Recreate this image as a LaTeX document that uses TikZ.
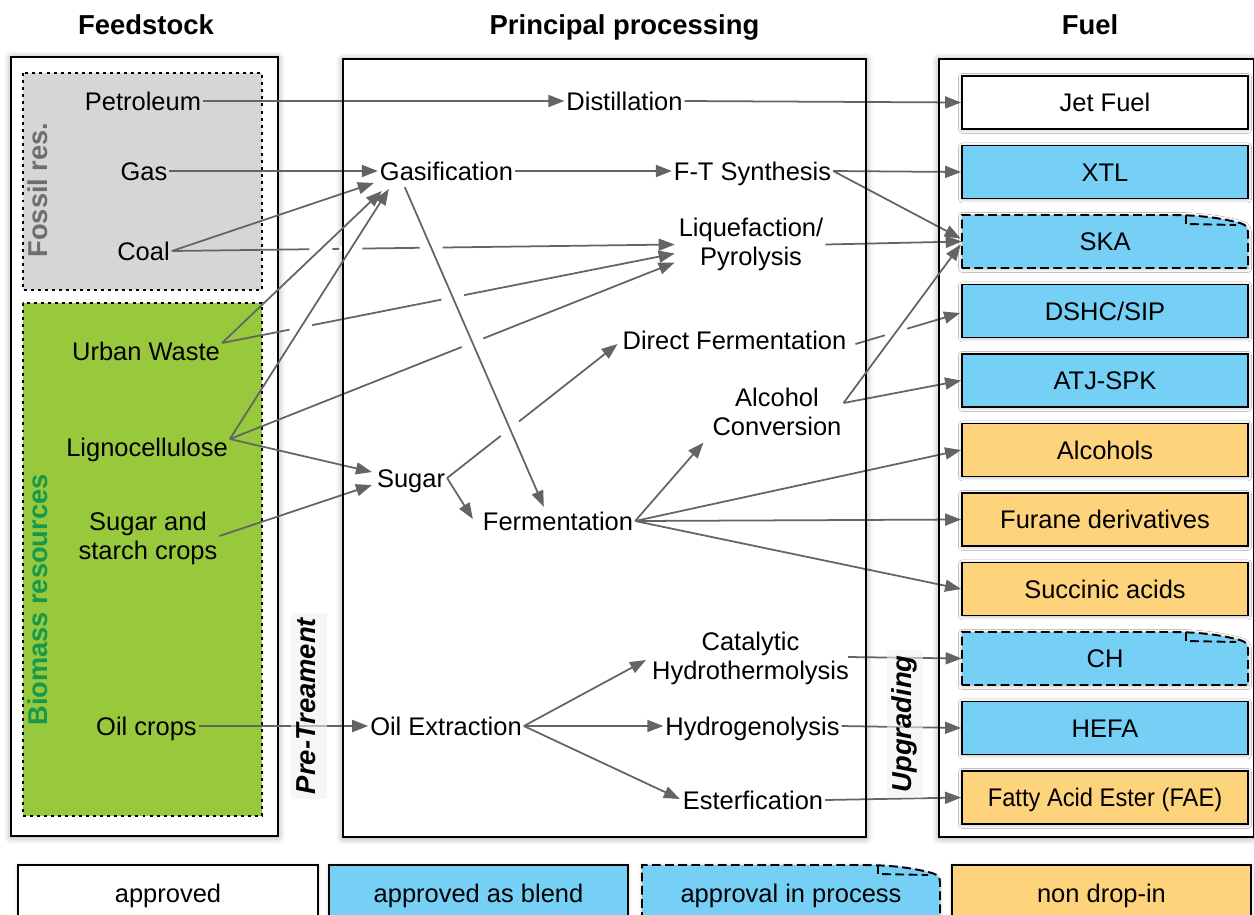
\documentclass[tikz,border=0pt]{standalone}
\usepackage{fontspec}
\setmainfont{Liberation Sans}
\usetikzlibrary{arrows.meta,calc,intersections,shadows.blur}
\definecolor{arrowgray}{HTML}{646464}
\definecolor{fuelblue}{HTML}{76CFF4}
\definecolor{fuelorange}{HTML}{FDD37B}
\definecolor{fossilgray}{HTML}{D6D6D6}
\definecolor{biogreen}{HTML}{98C83C}
\definecolor{biotext}{HTML}{17994D}
\definecolor{fossiltext}{HTML}{6E6E6E}
\tikzset{
  lbl/.style={font=\fontsize{14.5}{16.5}\selectfont, inner sep=1pt, text height=10.4pt, text depth=0pt},
  lbltwo/.style={font=\fontsize{14.5}{16.5}\selectfont, inner sep=1pt, align=center},
  head/.style={font=\fontsize{15.6}{18}\selectfont\bfseries, inner sep=0pt, text height=11.2pt, text depth=0pt},
  sidelabel/.style={font=\fontsize{15.5}{18}\selectfont\bfseries, rotate=90, inner sep=0pt, text height=11.2pt, text depth=0pt},
  stagelabel/.style={font=\fontsize{15.6}{18}\selectfont\bfseries\itshape, rotate=90, inner sep=3pt, text height=11.2pt, text depth=3.3pt, fill=black!6, fill opacity=0.6, text opacity=1},
  arr/.style={draw=arrowgray, line width=1pt, -{Triangle[length=0.32cm,width=0.24cm]}},
  gapline/.style={draw=white, line width=3pt},
  panel/.style={draw=black, line width=1.1pt, fill=white, blur shadow={shadow xshift=0pt, shadow yshift=-0.5pt, shadow blur radius=4pt, shadow opacity=40}},
  panelline/.style={draw=black, line width=1.1pt},
  region/.style={draw=black, line width=0.9pt, dash pattern=on 1.7pt off 2.3pt},
  fboxbase/.style={font=\fontsize{14.5}{16.5}\selectfont, minimum width=5.72cm, minimum height=1.06cm, inner sep=0pt, text height=10.4pt, text depth=0pt},
  fbox/.style={fboxbase, draw=black, line width=1.1pt, blur shadow={shadow xshift=0pt, shadow yshift=-0.5pt, shadow blur radius=2pt, shadow opacity=30}},
  approvedbox/.style={fbox, fill=white},
  blendbox/.style={fbox, fill=fuelblue},
  nondropbox/.style={fbox, fill=fuelorange},
  foldnode/.style={fboxbase},
  foldline/.style={draw=black, line width=1.1pt, dash pattern=on 5pt off 2.5pt},
}
\newcommand\foldshape[4]{%
  \filldraw[foldline, fill=fuelblue, blur shadow={shadow xshift=0pt, shadow yshift=-0.5pt, shadow blur radius=2pt, shadow opacity=30}]
    (#1-#3,#2+#4) -- (#1-#3,#2-#4) -- (#1+#3-78,#2-#4)
    .. controls (#1+#3-40,#2-#4) and (#1+#3-20,#2-#4+5) .. (#1+#3-8,#2-#4+8)
    .. controls (#1+#3-2,#2-#4+10) and (#1+#3,#2-#4+12) .. (#1+#3,#2-#4+18)
    -- (#1+#3,#2+#4) -- cycle;
  \draw[foldline] (#1+#3-62,#2-#4) -- (#1+#3-62,#2-#4+9) -- (#1+#3-12,#2-#4+10);
}
\begin{document}
\begin{tikzpicture}[x=0.02cm,y=-0.02cm]
\useasboundingbox (0,0) rectangle (1254,914);

% panels
\draw[panel] (11,57) rectangle (278,836);
\draw[panel] (343,59) rectangle (866,837);
\draw[panel] (939,59) rectangle (1254,837);
\filldraw[region, fill=fossilgray] (23,73) rectangle (262,290);
\filldraw[region, fill=biogreen] (23,303) rectangle (262,816);

% headers
\node[head] (hfeed) at (146,25) {Feedstock};
\node[head] (hproc) at (624.5,25) {Principal processing};
\node[head] (hfuel) at (1090,25) {Fuel};

\node[sidelabel, text=fossiltext] (fossil) at (37.5,190) {Fossil res.};
\node[sidelabel, text=biotext] (biomass) at (37.5,600) {Biomass resources};

% fuel boxes
\node[approvedbox] (jet) at (1105,102.5) {Jet Fuel};
\node[blendbox] (xtl) at (1105,172) {XTL};
\foldshape{1105}{241.5}{143}{26.5}
\node[foldnode] (ska) at (1105,241.5) {SKA};
\node[blendbox] (dshc) at (1105,311) {DSHC/SIP};
\node[blendbox] (atj) at (1105,380.5) {ATJ-SPK};
\node[nondropbox] (alcohols) at (1105,450) {Alcohols};
\node[nondropbox] (furane) at (1105,519.5) {Furane derivatives};
\node[nondropbox] (succ) at (1105,589) {Succinic acids};
\foldshape{1105}{658.5}{143}{26.5}
\node[foldnode] (ch) at (1105,658.5) {CH};
\node[blendbox] (hefa) at (1105,728) {HEFA};
\node[nondropbox] (fae) at (1105,797.5) {\scalebox{0.93}[1]{Fatty Acid Ester (FAE)}};

% legend
\node[approvedbox, minimum width=6cm, minimum height=1.12cm] (lapp) at (168,893) {approved};
\node[blendbox, minimum width=5.98cm, minimum height=1.12cm] (lblend) at (478.5,893) {approved as blend};
\foldshape{791}{893}{149}{28}
\node[foldnode, minimum width=5.96cm, minimum height=1.12cm] (lproc) at (791,893) {approval in process};
\node[nondropbox, minimum width=5.98cm, minimum height=1.12cm] (lnon) at (1101.5,893) {non drop-in};

% feedstock labels
\node[lbl] (petro) at (143,101) {Petroleum};
\node[lbl] (gas) at (144,171) {Gas};
\node[lbl] (coal) at (143.5,251) {Coal};
\node[lbl] (uw) at (146,351) {Urban Waste};
\node[lbl] (ligno) at (147,447) {Lignocellulose};
\node[lbltwo] (sugc) at (148,538) {Sugar and\\starch crops};
\node[lbl] (oilc) at (146.5,726) {Oil crops};

% processing labels
\node[lbl] (dist) at (624.5,101) {Distillation};
\node[lbl] (gasif) at (446.5,171) {Gasification};
\node[lbl] (ft) at (752.5,171) {F-T Synthesis};
\node[lbltwo] (liq) at (751,244.5) {Liquefaction/\\Pyrolysis};
\node[lbl] (df) at (734.5,340) {Direct Fermentation};
\node[lbltwo] (alc) at (777,411.5) {Alcohol\\Conversion};
\node[lbl] (sugar) at (411,478) {Sugar};
\node[lbl] (ferm) at (558,521) {Fermentation};
\node[lbltwo] (cat) at (750.5,658) {Catalytic\\Hydrothermolysis};
\node[lbl] (oilx) at (446,726) {Oil Extraction};
\node[lbl] (hydro) at (752.5,726) {Hydrogenolysis};
\node[lbl] (ester) at (753,800) {Esterfication};

% connector end points
\coordinate (cS) at (coal.east);
\coordinate (cG) at ($(gasif.west)+(-4,12)$);
\coordinate (cL) at ($(liq.west)+(-2,0)$);
\coordinate (uS) at ($(uw.east)+(0,-8)$);
\coordinate (uG) at ($(gasif.west)+(4,20)$);
\coordinate (uL) at ($(liq.west)+(-2,9)$);
\coordinate (lS) at ($(ligno.east)+(0,-8)$);
\coordinate (lG) at ($(gasif.west)+(11,18)$);
\coordinate (lL) at ($(liq.west)+(-2,18)$);
\coordinate (gfS) at ($(gasif.south west)+(27,5)$);
\coordinate (gfE) at ($(ferm.north west)+(63,-3)$);
\coordinate (sD) at ($(df.west)+(-3,4)$);
\coordinate (dS) at ($(df.east)+(7,4)$);
\coordinate (dE) at ($(dshc.west)+(-1,2)$);
\coordinate (aS) at ($(alc.east)+(0,-8.5)$);
\coordinate (aE) at ($(ska.west)+(-1,3)$);

\path[name path=pUG] (uS) -- (uG);
\path[name path=pLG] (lS) -- (lG);
\path[name path=pGF] (gfS) -- (gfE);
\path[name path=pAS] (aS) -- (aE);

% lines that pass under others
\draw[arr, name path=pCL] (cS) -- (cL);
\draw[arr, name path=pUL] (uS) -- (uL);
\draw[arr, name path=pLL] (lS) -- (lL);
\draw[arr, name path=pSD] (sugar.east) -- (sD);
\draw[arr, name path=pDD] (dS) -- (dE);

% other connectors
\draw[arr] (petro.east) -- (dist.west);
\draw[arr] (dist.east) -- (jet.west);
\draw[arr] (gas.east) -- (gasif.west);
\draw[arr] (cS) -- (cG);
\draw[arr] (lS) -- ($(sugar.west)+(-3,-6)$);
\draw[arr] ($(sugc.east)+(0,-2)$) -- ($(sugar.west)+(-3,7)$);
\draw[arr] (oilc.east) -- (oilx.west);
\draw[arr] (gasif.east) -- (ft.west);
\draw[arr] (ft.east) -- (xtl.west);
\draw[arr] (ft.east) -- ($(ska.west)+(-1,-3)$);
\draw[arr] (liq.east) -- (ska.west);
\draw[arr] (aS) -- (atj.west);
\draw[arr] (sugar.east) -- ($(ferm.west)+(-8,-2)$);
\draw[arr] (ferm.east) -- ($(alc.west)+(-7,31)$);
\draw[arr] (ferm.east) -- (alcohols.west);
\draw[arr] (ferm.east) -- (furane.west);
\draw[arr] (ferm.east) -- (succ.west);
\draw[arr] (oilx.east) -- ($(cat.west)+(-4,2)$);
\draw[arr] (oilx.east) -- (hydro.west);
\draw[arr] (oilx.east) -- ($(ester.west)+(-1,-1)$);
\draw[arr] ($(cat.east)+(-3,-1)$) -- (ch.west);
\draw[arr] (hydro.east) -- (hefa.west);
\draw[arr] (ester.east) -- (fae.west);

% line jumps
\path[name intersections={of=pCL and pUG, by=xa}];
\path[name intersections={of=pCL and pLG, by=xb}];
\path[name intersections={of=pCL and pGF, by=xc}];
\path[name intersections={of=pUL and pLG, by=xd}];
\path[name intersections={of=pUL and pGF, by=xe}];
\path[name intersections={of=pLL and pGF, by=xf}];
\path[name intersections={of=pSD and pGF, by=xg}];
\path[name intersections={of=pDD and pAS, by=xh}];
\draw[gapline] ($(xa)!0.23cm!(cS)$) -- ($(xa)!0.23cm!(cL)$);
\draw[gapline] ($(xb)!0.23cm!(cS)$) -- ($(xb)!0.23cm!(cL)$);
\draw[gapline] ($(xc)!0.23cm!(cS)$) -- ($(xc)!0.23cm!(cL)$);
\draw[gapline] ($(xd)!0.23cm!(uS)$) -- ($(xd)!0.23cm!(uL)$);
\draw[gapline] ($(xe)!0.23cm!(uS)$) -- ($(xe)!0.23cm!(uL)$);
\draw[gapline] ($(xf)!0.23cm!(lS)$) -- ($(xf)!0.23cm!(lL)$);
\draw[gapline] ($(xg)!0.23cm!(sugar.east)$) -- ($(xg)!0.23cm!(sD)$);
\draw[gapline] ($(xh)!0.23cm!(dS)$) -- ($(xh)!0.23cm!(dE)$);

\draw[panelline] (343,59) rectangle (866,837);
\draw[panelline] (939,59) rectangle (1254,837);

% lines that pass over
\draw[arr] (uS) -- (uG);
\draw[arr] (lS) -- (lG);
\draw[arr] (gfS) -- (gfE);
\draw[arr] (aS) -- (aE);

% stage labels
\node[stagelabel] (pretreat) at (309,706) {Pre-Treament};
\node[stagelabel] (upgrade) at (905,724) {Upgrading};
\end{tikzpicture}
\end{document}
